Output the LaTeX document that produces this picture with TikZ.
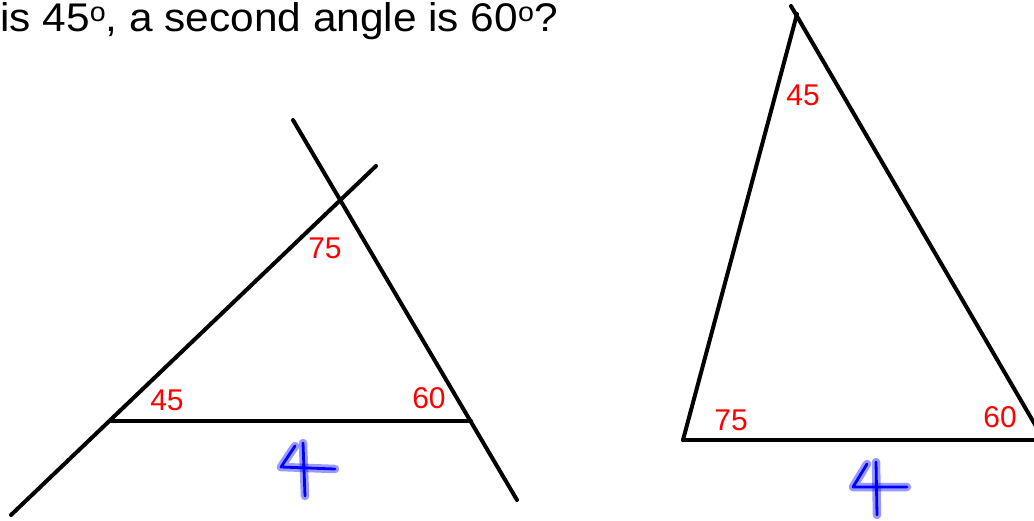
\documentclass[tikz,border=0pt]{standalone}
\usepackage{fontspec}
\setmainfont{Liberation Sans}
\begin{document}
\begin{tikzpicture}[x=1pt,y=-1pt,
  edge/.style={line width=4pt, line cap=round, line join=round},
  ang/.style={text=red, font=\fontsize{30}{30}\selectfont, inner sep=0pt},
  glow/.style={line width=8.5pt, draw=blue, opacity=0.4, line cap=round, line join=round},
  ink/.style={line width=2.8pt, draw=blue, line cap=round, line join=round}]
\useasboundingbox (0,0) rectangle (1034,520);
\begin{scope}
\clip (0,0) rectangle (1034,520);
% title
\node[anchor=base west, inner sep=0pt, font=\fontsize{40}{46}\selectfont] (title) at (0,31.5)
  {\scalebox{1.06}[1]{is 45\raisebox{10pt}{\fontsize{27}{27}\selectfont o}, a second angle is 60\raisebox{10pt}{\fontsize{27}{27}\selectfont o}?}};
% left figure
\coordinate (a1) at (11,515);
\coordinate (a2) at (376,166);
\coordinate (b1) at (293,120);
\coordinate (b2) at (517,500);
\coordinate (bl) at (110,421);
\coordinate (br) at (471,421);
\draw[edge] (a1) -- (a2);
\draw[edge] (b1) -- (b2);
\draw[edge] (bl) -- (br);
\node[ang] (l75) at (325,248) {75};
\node[ang] (l45) at (167,400) {45};
\node[ang] (l60) at (429,398) {60};
% right figure
\coordinate (tick) at (791,6);
\coordinate (apex) at (797,14);
\coordinate (rl) at (683,440);
\coordinate (rr) at (1044,440);
\draw[edge] (tick) -- (rr);
\draw[edge] (apex) -- (rl);
\draw[edge] (rl) -- (rr);
\node[ang] (r45) at (803,95) {45};
\node[ang] (r75) at (731,420) {75};
\node[ang] (r60) at (1000,417) {60};
% handwritten 4s
\foreach \s in {glow,ink}{
  \draw[\s] (295,446) -- (281,467) -- (335,469);
  \draw[\s] (303,443) -- (305,496);
  \draw[\s] (867,464) -- (853,487) -- (907,487);
  \draw[\s] (876,462) -- (877,515);
}
\end{scope}
\end{tikzpicture}
\end{document}
